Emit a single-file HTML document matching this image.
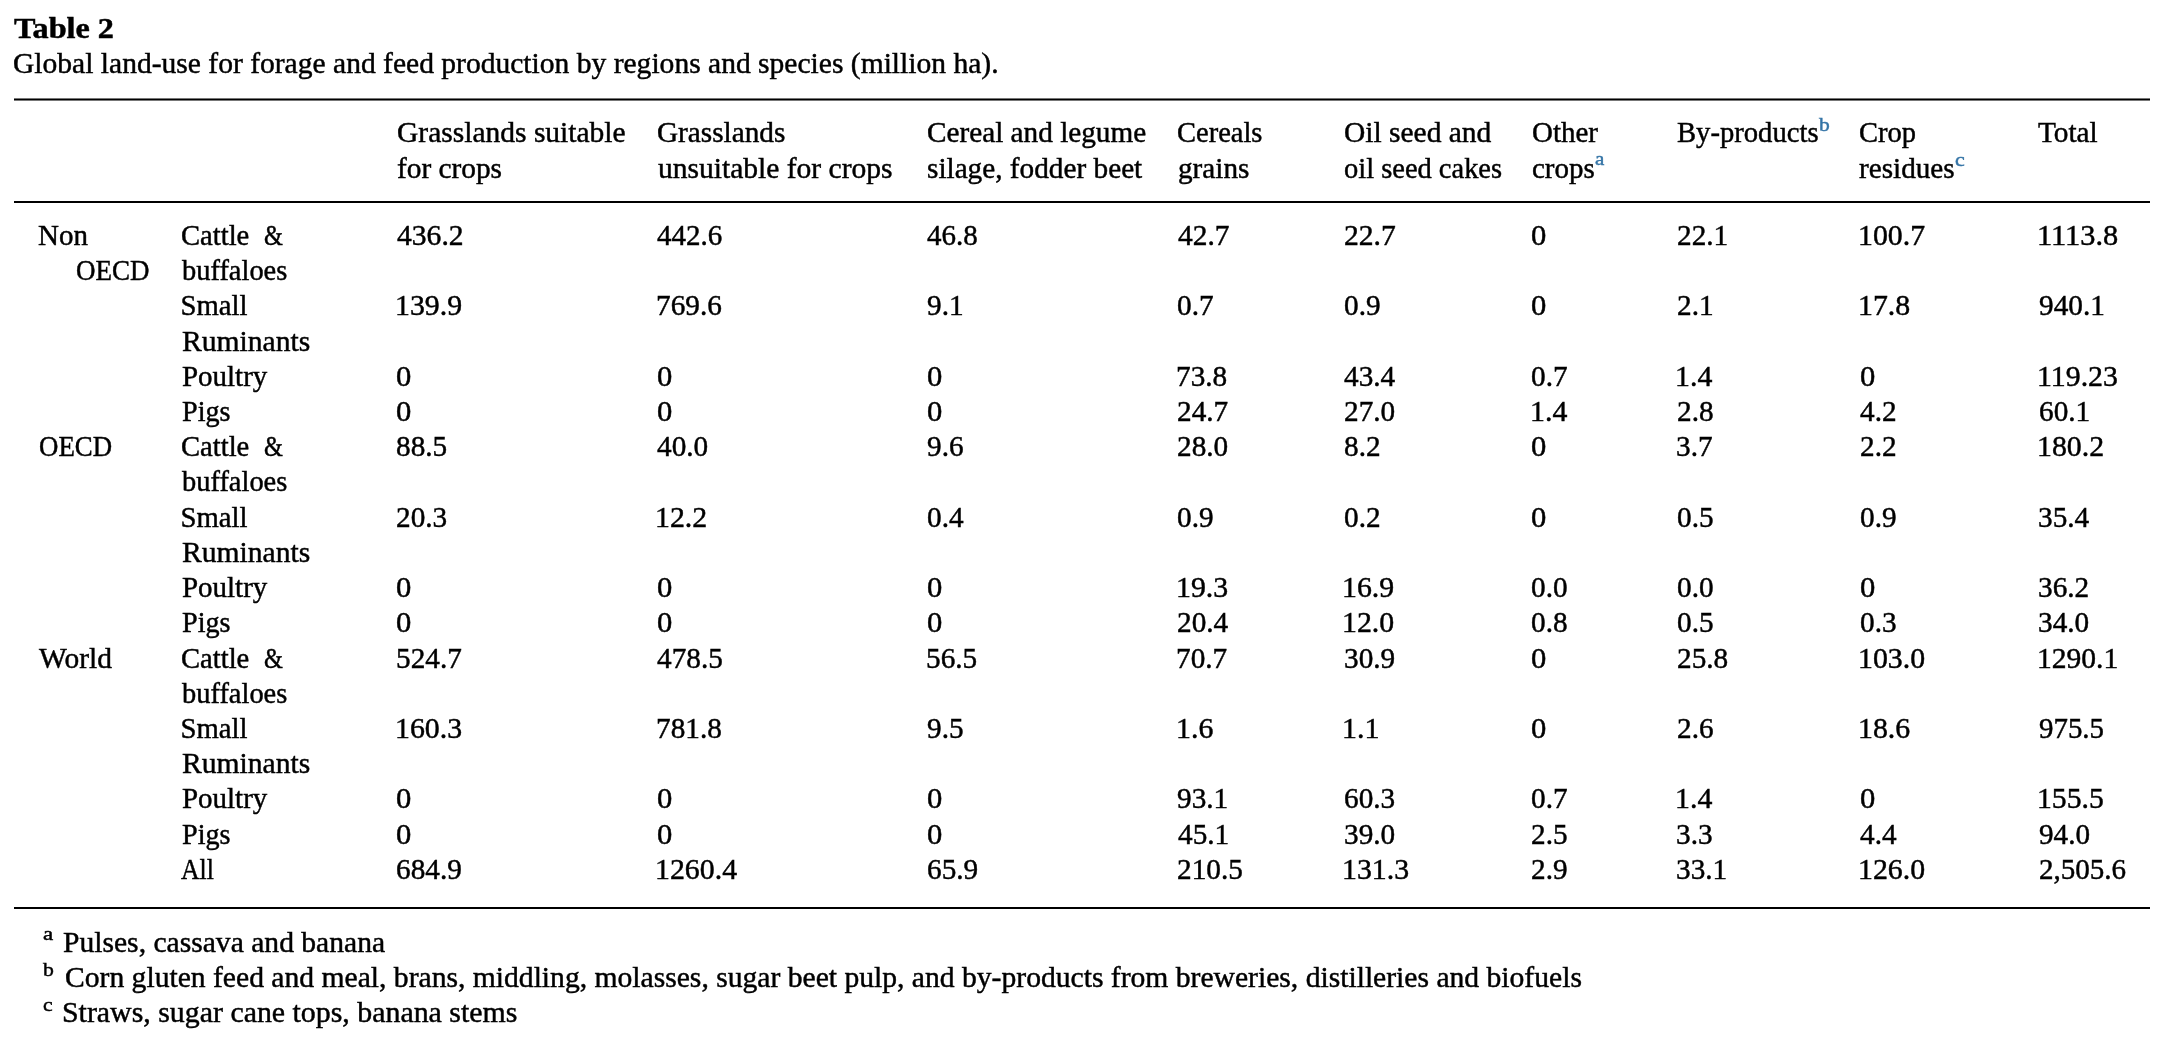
<!DOCTYPE html>
<html><head><meta charset="utf-8"><title>Table 2</title>
<style>
html,body{margin:0;padding:0;background:#fff;}
body{width:2158px;height:1048px;overflow:hidden;position:relative;font-family:"Liberation Serif",serif;color:#000;}
.t{position:absolute;white-space:nowrap;line-height:40px;transform-origin:0 0;-webkit-text-stroke:0.45px currentColor;}
.w{position:absolute;left:0;top:0;width:2158px;height:1048px;will-change:transform;}
.r{position:absolute;left:14px;width:2136px;background:#000;}
</style></head><body>
<div class=r style="top:98px;height:1px;background:#777"></div>
<div class=r style="top:99px;height:1px"></div>
<div class=r style="top:100px;height:1px;background:#777"></div>
<div class=r style="top:201px;height:2px"></div>
<div class=r style="top:907px;height:2px"></div>
<div class=w>
<div class=t style="left:14.25px;top:7.72px;font-size:28.7px;font-weight:bold;transform:scaleX(1.1232);">Table 2</div>
<div class=t style="left:13.40px;top:43.32px;font-size:28.7px;transform:scaleX(1.0301);">Global land-use for forage and feed production by regions and species (million ha).</div>
<div class=t style="left:396.50px;top:112.42px;font-size:28.7px;transform:scaleX(1.0287);">Grasslands suitable</div>
<div class=t style="left:396.67px;top:147.62px;font-size:28.7px;transform:scaleX(1.0221);">for crops</div>
<div class=t style="left:656.90px;top:112.42px;font-size:28.7px;transform:scaleX(1.0195);">Grasslands</div>
<div class=t style="left:658.04px;top:147.62px;font-size:28.7px;transform:scaleX(1.0291);">unsuitable for crops</div>
<div class=t style="left:926.52px;top:112.42px;font-size:28.7px;transform:scaleX(1.0192);">Cereal and legume</div>
<div class=t style="left:926.52px;top:147.62px;font-size:28.7px;transform:scaleX(1.0197);">silage, fodder beet</div>
<div class=t style="left:1177.14px;top:112.42px;font-size:28.7px;transform:scaleX(0.9931);">Cereals</div>
<div class=t style="left:1177.57px;top:147.62px;font-size:28.7px;transform:scaleX(1.0188);">grains</div>
<div class=t style="left:1343.71px;top:112.42px;font-size:28.7px;transform:scaleX(1.0271);">Oil seed and</div>
<div class=t style="left:1343.79px;top:147.62px;font-size:28.7px;transform:scaleX(0.9923);">oil seed cakes</div>
<div class=t style="left:1531.93px;top:112.42px;font-size:28.7px;transform:scaleX(1.0098);">Other</div>
<div class=t style="left:1531.98px;top:147.62px;font-size:28.7px;transform:scaleX(1.0097);">crops</div>
<div class=t style="left:1676.84px;top:112.42px;font-size:28.7px;transform:scaleX(0.9980);">By-products</div>
<div class=t style="left:1858.84px;top:112.42px;font-size:28.7px;transform:scaleX(0.9933);">Crop</div>
<div class=t style="left:1859.33px;top:147.62px;font-size:28.7px;transform:scaleX(1.0174);">residues</div>
<div class=t style="left:2037.67px;top:112.42px;font-size:28.7px;transform:scaleX(1.0202);">Total</div>
<div class=t style="left:1594.74px;top:139.32px;font-size:19.5px;transform:scaleX(1.0764);color:#3474a6;">a</div>
<div class=t style="left:1818.57px;top:105.02px;font-size:19.5px;transform:scaleX(1.1041);color:#3474a6;">b</div>
<div class=t style="left:1955.18px;top:139.82px;font-size:19.5px;transform:scaleX(1.1267);color:#3474a6;">c</div>
<div class=t style="left:396.63px;top:215.02px;font-size:28.7px;transform:scaleX(1.0314);">436.2</div>
<div class=t style="left:657.14px;top:215.02px;font-size:28.7px;transform:scaleX(1.0107);">442.6</div>
<div class=t style="left:927.04px;top:215.02px;font-size:28.7px;transform:scaleX(1.0104);">46.8</div>
<div class=t style="left:1177.63px;top:215.02px;font-size:28.7px;transform:scaleX(1.0255);">42.7</div>
<div class=t style="left:1343.79px;top:215.02px;font-size:28.7px;transform:scaleX(1.0324);">22.7</div>
<div class=t style="left:1531.34px;top:215.02px;font-size:28.7px;transform:scaleX(1.0674);">0</div>
<div class=t style="left:1676.50px;top:215.02px;font-size:28.7px;transform:scaleX(1.0200);">22.1</div>
<div class=t style="left:1858.11px;top:215.02px;font-size:28.7px;transform:scaleX(1.0389);">100.7</div>
<div class=t style="left:2036.96px;top:215.02px;font-size:28.7px;transform:scaleX(1.0586);">1113.8</div>
<div class=t style="left:394.61px;top:285.44px;font-size:28.7px;transform:scaleX(1.0400);">139.9</div>
<div class=t style="left:655.83px;top:285.44px;font-size:28.7px;transform:scaleX(1.0200);">769.6</div>
<div class=t style="left:926.70px;top:285.44px;font-size:28.7px;transform:scaleX(1.0200);">9.1</div>
<div class=t style="left:1177.18px;top:285.44px;font-size:28.7px;transform:scaleX(1.0200);">0.7</div>
<div class=t style="left:1343.88px;top:285.44px;font-size:28.7px;transform:scaleX(1.0200);">0.9</div>
<div class=t style="left:1531.34px;top:285.44px;font-size:28.7px;transform:scaleX(1.0674);">0</div>
<div class=t style="left:1676.50px;top:285.44px;font-size:28.7px;transform:scaleX(1.0200);">2.1</div>
<div class=t style="left:1858.11px;top:285.44px;font-size:28.7px;transform:scaleX(1.0400);">17.8</div>
<div class=t style="left:2038.70px;top:285.44px;font-size:28.7px;transform:scaleX(1.0200);">940.1</div>
<div class=t style="left:396.14px;top:355.86px;font-size:28.7px;transform:scaleX(1.0674);">0</div>
<div class=t style="left:656.64px;top:355.86px;font-size:28.7px;transform:scaleX(1.0674);">0</div>
<div class=t style="left:926.54px;top:355.86px;font-size:28.7px;transform:scaleX(1.0674);">0</div>
<div class=t style="left:1176.33px;top:355.86px;font-size:28.7px;transform:scaleX(1.0200);">73.8</div>
<div class=t style="left:1344.33px;top:355.86px;font-size:28.7px;transform:scaleX(1.0200);">43.4</div>
<div class=t style="left:1531.38px;top:355.86px;font-size:28.7px;transform:scaleX(1.0200);">0.7</div>
<div class=t style="left:1675.01px;top:355.86px;font-size:28.7px;transform:scaleX(1.0400);">1.4</div>
<div class=t style="left:1859.64px;top:355.86px;font-size:28.7px;transform:scaleX(1.0674);">0</div>
<div class=t style="left:2037.01px;top:355.86px;font-size:28.7px;transform:scaleX(1.0400);">119.23</div>
<div class=t style="left:396.14px;top:391.07px;font-size:28.7px;transform:scaleX(1.0674);">0</div>
<div class=t style="left:656.64px;top:391.07px;font-size:28.7px;transform:scaleX(1.0674);">0</div>
<div class=t style="left:926.54px;top:391.07px;font-size:28.7px;transform:scaleX(1.0674);">0</div>
<div class=t style="left:1177.10px;top:391.07px;font-size:28.7px;transform:scaleX(1.0200);">24.7</div>
<div class=t style="left:1343.80px;top:391.07px;font-size:28.7px;transform:scaleX(1.0200);">27.0</div>
<div class=t style="left:1529.81px;top:391.07px;font-size:28.7px;transform:scaleX(1.0400);">1.4</div>
<div class=t style="left:1676.50px;top:391.07px;font-size:28.7px;transform:scaleX(1.0200);">2.8</div>
<div class=t style="left:1860.13px;top:391.07px;font-size:28.7px;transform:scaleX(1.0200);">4.2</div>
<div class=t style="left:2038.50px;top:391.07px;font-size:28.7px;transform:scaleX(1.0200);">60.1</div>
<div class=t style="left:396.18px;top:426.28px;font-size:28.7px;transform:scaleX(1.0200);">88.5</div>
<div class=t style="left:657.13px;top:426.28px;font-size:28.7px;transform:scaleX(1.0200);">40.0</div>
<div class=t style="left:926.70px;top:426.28px;font-size:28.7px;transform:scaleX(1.0200);">9.6</div>
<div class=t style="left:1177.10px;top:426.28px;font-size:28.7px;transform:scaleX(1.0200);">28.0</div>
<div class=t style="left:1343.88px;top:426.28px;font-size:28.7px;transform:scaleX(1.0200);">8.2</div>
<div class=t style="left:1531.34px;top:426.28px;font-size:28.7px;transform:scaleX(1.0674);">0</div>
<div class=t style="left:1676.44px;top:426.28px;font-size:28.7px;transform:scaleX(1.0200);">3.7</div>
<div class=t style="left:1859.60px;top:426.28px;font-size:28.7px;transform:scaleX(1.0200);">2.2</div>
<div class=t style="left:2037.01px;top:426.28px;font-size:28.7px;transform:scaleX(1.0400);">180.2</div>
<div class=t style="left:396.10px;top:496.70px;font-size:28.7px;transform:scaleX(1.0200);">20.3</div>
<div class=t style="left:655.11px;top:496.70px;font-size:28.7px;transform:scaleX(1.0400);">12.2</div>
<div class=t style="left:926.58px;top:496.70px;font-size:28.7px;transform:scaleX(1.0200);">0.4</div>
<div class=t style="left:1177.18px;top:496.70px;font-size:28.7px;transform:scaleX(1.0200);">0.9</div>
<div class=t style="left:1343.88px;top:496.70px;font-size:28.7px;transform:scaleX(1.0200);">0.2</div>
<div class=t style="left:1531.34px;top:496.70px;font-size:28.7px;transform:scaleX(1.0674);">0</div>
<div class=t style="left:1676.58px;top:496.70px;font-size:28.7px;transform:scaleX(1.0200);">0.5</div>
<div class=t style="left:1859.68px;top:496.70px;font-size:28.7px;transform:scaleX(1.0200);">0.9</div>
<div class=t style="left:2038.44px;top:496.70px;font-size:28.7px;transform:scaleX(1.0200);">35.4</div>
<div class=t style="left:396.14px;top:567.12px;font-size:28.7px;transform:scaleX(1.0674);">0</div>
<div class=t style="left:656.64px;top:567.12px;font-size:28.7px;transform:scaleX(1.0674);">0</div>
<div class=t style="left:926.54px;top:567.12px;font-size:28.7px;transform:scaleX(1.0674);">0</div>
<div class=t style="left:1175.61px;top:567.12px;font-size:28.7px;transform:scaleX(1.0400);">19.3</div>
<div class=t style="left:1342.31px;top:567.12px;font-size:28.7px;transform:scaleX(1.0400);">16.9</div>
<div class=t style="left:1531.38px;top:567.12px;font-size:28.7px;transform:scaleX(1.0200);">0.0</div>
<div class=t style="left:1676.58px;top:567.12px;font-size:28.7px;transform:scaleX(1.0200);">0.0</div>
<div class=t style="left:1859.64px;top:567.12px;font-size:28.7px;transform:scaleX(1.0674);">0</div>
<div class=t style="left:2038.44px;top:567.12px;font-size:28.7px;transform:scaleX(1.0200);">36.2</div>
<div class=t style="left:396.14px;top:602.33px;font-size:28.7px;transform:scaleX(1.0674);">0</div>
<div class=t style="left:656.64px;top:602.33px;font-size:28.7px;transform:scaleX(1.0674);">0</div>
<div class=t style="left:926.54px;top:602.33px;font-size:28.7px;transform:scaleX(1.0674);">0</div>
<div class=t style="left:1177.10px;top:602.33px;font-size:28.7px;transform:scaleX(1.0200);">20.4</div>
<div class=t style="left:1342.31px;top:602.33px;font-size:28.7px;transform:scaleX(1.0400);">12.0</div>
<div class=t style="left:1531.38px;top:602.33px;font-size:28.7px;transform:scaleX(1.0200);">0.8</div>
<div class=t style="left:1676.58px;top:602.33px;font-size:28.7px;transform:scaleX(1.0200);">0.5</div>
<div class=t style="left:1859.68px;top:602.33px;font-size:28.7px;transform:scaleX(1.0200);">0.3</div>
<div class=t style="left:2038.44px;top:602.33px;font-size:28.7px;transform:scaleX(1.0200);">34.0</div>
<div class=t style="left:395.50px;top:637.54px;font-size:28.7px;transform:scaleX(1.0200);">524.7</div>
<div class=t style="left:657.13px;top:637.54px;font-size:28.7px;transform:scaleX(1.0200);">478.5</div>
<div class=t style="left:925.90px;top:637.54px;font-size:28.7px;transform:scaleX(1.0200);">56.5</div>
<div class=t style="left:1176.33px;top:637.54px;font-size:28.7px;transform:scaleX(1.0200);">70.7</div>
<div class=t style="left:1343.74px;top:637.54px;font-size:28.7px;transform:scaleX(1.0200);">30.9</div>
<div class=t style="left:1531.34px;top:637.54px;font-size:28.7px;transform:scaleX(1.0674);">0</div>
<div class=t style="left:1676.50px;top:637.54px;font-size:28.7px;transform:scaleX(1.0200);">25.8</div>
<div class=t style="left:1858.11px;top:637.54px;font-size:28.7px;transform:scaleX(1.0400);">103.0</div>
<div class=t style="left:2037.03px;top:637.54px;font-size:28.7px;transform:scaleX(1.0305);">1290.1</div>
<div class=t style="left:394.61px;top:707.96px;font-size:28.7px;transform:scaleX(1.0400);">160.3</div>
<div class=t style="left:655.83px;top:707.96px;font-size:28.7px;transform:scaleX(1.0200);">781.8</div>
<div class=t style="left:926.70px;top:707.96px;font-size:28.7px;transform:scaleX(1.0200);">9.5</div>
<div class=t style="left:1175.61px;top:707.96px;font-size:28.7px;transform:scaleX(1.0400);">1.6</div>
<div class=t style="left:1342.31px;top:707.96px;font-size:28.7px;transform:scaleX(1.0400);">1.1</div>
<div class=t style="left:1531.34px;top:707.96px;font-size:28.7px;transform:scaleX(1.0674);">0</div>
<div class=t style="left:1676.50px;top:707.96px;font-size:28.7px;transform:scaleX(1.0200);">2.6</div>
<div class=t style="left:1858.11px;top:707.96px;font-size:28.7px;transform:scaleX(1.0400);">18.6</div>
<div class=t style="left:2038.71px;top:707.96px;font-size:28.7px;transform:scaleX(1.0077);">975.5</div>
<div class=t style="left:396.14px;top:778.38px;font-size:28.7px;transform:scaleX(1.0674);">0</div>
<div class=t style="left:656.64px;top:778.38px;font-size:28.7px;transform:scaleX(1.0674);">0</div>
<div class=t style="left:926.54px;top:778.38px;font-size:28.7px;transform:scaleX(1.0674);">0</div>
<div class=t style="left:1177.30px;top:778.38px;font-size:28.7px;transform:scaleX(1.0200);">93.1</div>
<div class=t style="left:1343.80px;top:778.38px;font-size:28.7px;transform:scaleX(1.0200);">60.3</div>
<div class=t style="left:1531.38px;top:778.38px;font-size:28.7px;transform:scaleX(1.0200);">0.7</div>
<div class=t style="left:1675.01px;top:778.38px;font-size:28.7px;transform:scaleX(1.0400);">1.4</div>
<div class=t style="left:1859.64px;top:778.38px;font-size:28.7px;transform:scaleX(1.0674);">0</div>
<div class=t style="left:2037.02px;top:778.38px;font-size:28.7px;transform:scaleX(1.0343);">155.5</div>
<div class=t style="left:396.14px;top:813.59px;font-size:28.7px;transform:scaleX(1.0674);">0</div>
<div class=t style="left:656.64px;top:813.59px;font-size:28.7px;transform:scaleX(1.0674);">0</div>
<div class=t style="left:926.54px;top:813.59px;font-size:28.7px;transform:scaleX(1.0674);">0</div>
<div class=t style="left:1177.63px;top:813.59px;font-size:28.7px;transform:scaleX(1.0200);">45.1</div>
<div class=t style="left:1343.74px;top:813.59px;font-size:28.7px;transform:scaleX(1.0200);">39.0</div>
<div class=t style="left:1531.30px;top:813.59px;font-size:28.7px;transform:scaleX(1.0200);">2.5</div>
<div class=t style="left:1676.44px;top:813.59px;font-size:28.7px;transform:scaleX(1.0200);">3.3</div>
<div class=t style="left:1860.13px;top:813.59px;font-size:28.7px;transform:scaleX(1.0200);">4.4</div>
<div class=t style="left:2038.70px;top:813.59px;font-size:28.7px;transform:scaleX(1.0170);">94.0</div>
<div class=t style="left:396.10px;top:848.80px;font-size:28.7px;transform:scaleX(1.0200);">684.9</div>
<div class=t style="left:655.11px;top:848.80px;font-size:28.7px;transform:scaleX(1.0400);">1260.4</div>
<div class=t style="left:926.50px;top:848.80px;font-size:28.7px;transform:scaleX(1.0200);">65.9</div>
<div class=t style="left:1177.10px;top:848.80px;font-size:28.7px;transform:scaleX(1.0200);">210.5</div>
<div class=t style="left:1342.31px;top:848.80px;font-size:28.7px;transform:scaleX(1.0400);">131.3</div>
<div class=t style="left:1531.30px;top:848.80px;font-size:28.7px;transform:scaleX(1.0200);">2.9</div>
<div class=t style="left:1676.44px;top:848.80px;font-size:28.7px;transform:scaleX(1.0200);">33.1</div>
<div class=t style="left:1858.11px;top:848.80px;font-size:28.7px;transform:scaleX(1.0400);">126.0</div>
<div class=t style="left:2038.51px;top:848.80px;font-size:28.7px;transform:scaleX(1.0123);">2,505.6</div>
<div class=t style="left:38.43px;top:215.02px;font-size:28.7px;transform:scaleX(1.0101);">Non</div>
<div class=t style="left:76.19px;top:250.23px;font-size:28.7px;transform:scaleX(0.9410);">OECD</div>
<div class=t style="left:38.89px;top:426.28px;font-size:28.7px;transform:scaleX(0.9357);">OECD</div>
<div class=t style="left:38.95px;top:637.54px;font-size:28.7px;transform:scaleX(1.0263);">World</div>
<div class=t style="left:181.34px;top:215.02px;font-size:28.7px;transform:scaleX(0.9970);">Cattle</div>
<div class=t style="left:263.71px;top:215.02px;font-size:28.7px;transform:scaleX(0.8453);">&amp;</div>
<div class=t style="left:181.71px;top:250.23px;font-size:28.7px;transform:scaleX(0.9912);">buffaloes</div>
<div class=t style="left:181.34px;top:426.28px;font-size:28.7px;transform:scaleX(0.9970);">Cattle</div>
<div class=t style="left:263.71px;top:426.28px;font-size:28.7px;transform:scaleX(0.8453);">&amp;</div>
<div class=t style="left:181.71px;top:461.49px;font-size:28.7px;transform:scaleX(0.9912);">buffaloes</div>
<div class=t style="left:181.34px;top:637.54px;font-size:28.7px;transform:scaleX(0.9970);">Cattle</div>
<div class=t style="left:263.71px;top:637.54px;font-size:28.7px;transform:scaleX(0.8453);">&amp;</div>
<div class=t style="left:181.71px;top:672.75px;font-size:28.7px;transform:scaleX(0.9912);">buffaloes</div>
<div class=t style="left:180.60px;top:285.44px;font-size:28.7px;">Small</div>
<div class=t style="left:181.70px;top:320.65px;font-size:28.7px;transform:scaleX(1.0313);">Ruminants</div>
<div class=t style="left:180.60px;top:496.70px;font-size:28.7px;">Small</div>
<div class=t style="left:181.70px;top:531.91px;font-size:28.7px;transform:scaleX(1.0313);">Ruminants</div>
<div class=t style="left:180.60px;top:707.96px;font-size:28.7px;">Small</div>
<div class=t style="left:181.70px;top:743.17px;font-size:28.7px;transform:scaleX(1.0313);">Ruminants</div>
<div class=t style="left:181.71px;top:355.86px;font-size:28.7px;transform:scaleX(1.0092);">Poultry</div>
<div class=t style="left:181.71px;top:567.12px;font-size:28.7px;transform:scaleX(1.0092);">Poultry</div>
<div class=t style="left:181.71px;top:778.38px;font-size:28.7px;transform:scaleX(1.0092);">Poultry</div>
<div class=t style="left:181.73px;top:391.07px;font-size:28.7px;transform:scaleX(0.9804);">Pigs</div>
<div class=t style="left:181.73px;top:602.33px;font-size:28.7px;transform:scaleX(0.9804);">Pigs</div>
<div class=t style="left:181.73px;top:813.59px;font-size:28.7px;transform:scaleX(0.9804);">Pigs</div>
<div class=t style="left:180.98px;top:848.80px;font-size:28.7px;transform:scaleX(0.8976);">All</div>
<div class=t style="left:42.89px;top:913.62px;font-size:19.5px;transform:scaleX(1.1754);">a</div>
<div class=t style="left:43.07px;top:949.72px;font-size:19.5px;transform:scaleX(1.1146);">b</div>
<div class=t style="left:42.79px;top:984.62px;font-size:19.5px;transform:scaleX(1.1138);">c</div>
<div class=t style="left:63.40px;top:922.32px;font-size:28.7px;transform:scaleX(1.0315);">Pulses, cassava and banana</div>
<div class=t style="left:64.61px;top:957.12px;font-size:28.7px;transform:scaleX(1.0320);">Corn gluten feed and meal, brans, middling, molasses, sugar beet pulp, and by-products from breweries, distilleries and biofuels</div>
<div class=t style="left:61.63px;top:991.92px;font-size:28.7px;transform:scaleX(1.0411);">Straws, sugar cane tops, banana stems</div>
</div>
</body></html>
